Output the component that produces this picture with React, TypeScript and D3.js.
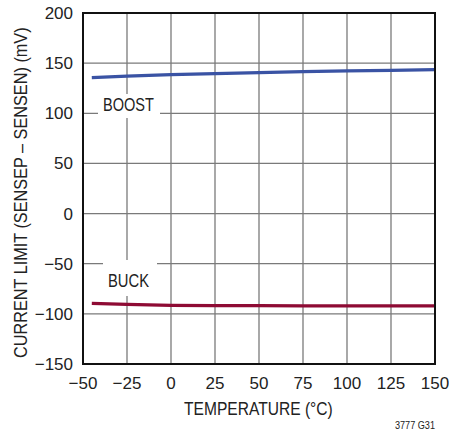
import React from "react";
import * as d3 from "d3";

const temps = [-45, -25, 0, 25, 50, 75, 100, 125, 150];
const boost = [135.5, 137, 138.5, 139.5, 140.5, 141.5, 142.2, 142.8, 143.5];
const buck = [-89.5, -90.5, -91.5, -91.7, -91.8, -92, -92, -92, -92];
const xTicks = [-50, -25, 0, 25, 50, 75, 100, 125, 150];
const yTicks = [-150, -100, -50, 0, 50, 100, 150, 200];

const W = 449, H = 434;
const L = 83, R = 435, T = 13, B = 364;
const FONT = "'Liberation Sans', Arial, sans-serif";

export default function App() {
  const x = d3.scaleLinear().domain([-50, 150]).range([L, R]);
  const y = d3.scaleLinear().domain([-150, 200]).range([B, T]);
  const line = d3.line<number>().x((_, i) => x(temps[i])).y((d) => y(d));

  return (
    <svg width={W} height={H} style={{ position: "absolute", left: 0, top: 0, background: "#fff" }} fontFamily={FONT}>
      <rect x={0} y={0} width={W} height={H} fill="#fff" />
      {xTicks.slice(1, -1).map((t) => (
        <line key={"gx" + t} x1={x(t)} x2={x(t)} y1={T} y2={B} stroke="#7a7a7a" strokeWidth={1.3} />
      ))}
      {yTicks.slice(1, -1).map((t) => (
        <line key={"gy" + t} x1={L} x2={R} y1={y(t)} y2={y(t)} stroke="#7a7a7a" strokeWidth={1.3} />
      ))}
      <rect x={98} y={94} width={62} height={24} fill="#fff" />
      <rect x={103} y={260} width={54} height={36} fill="#fff" />
      <path d={line(boost) || ""} fill="none" stroke="#3a53a4" strokeWidth={3.2} />
      <path d={line(buck) || ""} fill="none" stroke="#8e0b34" strokeWidth={3.2} />
      <rect x={L} y={T} width={R - L} height={B - T} fill="none" stroke="#111" strokeWidth={2} />
      <text transform="translate(103,111) scale(0.767,1)" fontSize={19} fill="#222">BOOST</text>
      <text transform="translate(108,287) scale(0.777,1)" fontSize={19} fill="#222">BUCK</text>
      {yTicks.map((t) => (
        <text key={"yt" + t} x={73} y={y(t) + 6} fontSize={17} textAnchor="end" fill="#222">
          {t < 0 ? "\u2212" + Math.abs(t) : t}
        </text>
      ))}
      {xTicks.map((t) => (
        <text key={"xt" + t} x={x(t)} y={389} fontSize={17} textAnchor="middle" fill="#222">
          {t < 0 ? "\u2212" + Math.abs(t) : t}
        </text>
      ))}
      <text transform="translate(184,415) scale(0.866,1)" fontSize={18} fill="#222">TEMPERATURE (°C)</text>
      <text transform="translate(27,358) rotate(-90) scale(0.904,1)" fontSize={18} fill="#222">
        CURRENT LIMIT (SENSEP – SENSEN) (mV)
      </text>
      <text transform="translate(435,429) scale(0.83,1)" fontSize={11} textAnchor="end" fill="#222">3777 G31</text>
    </svg>
  );
}
